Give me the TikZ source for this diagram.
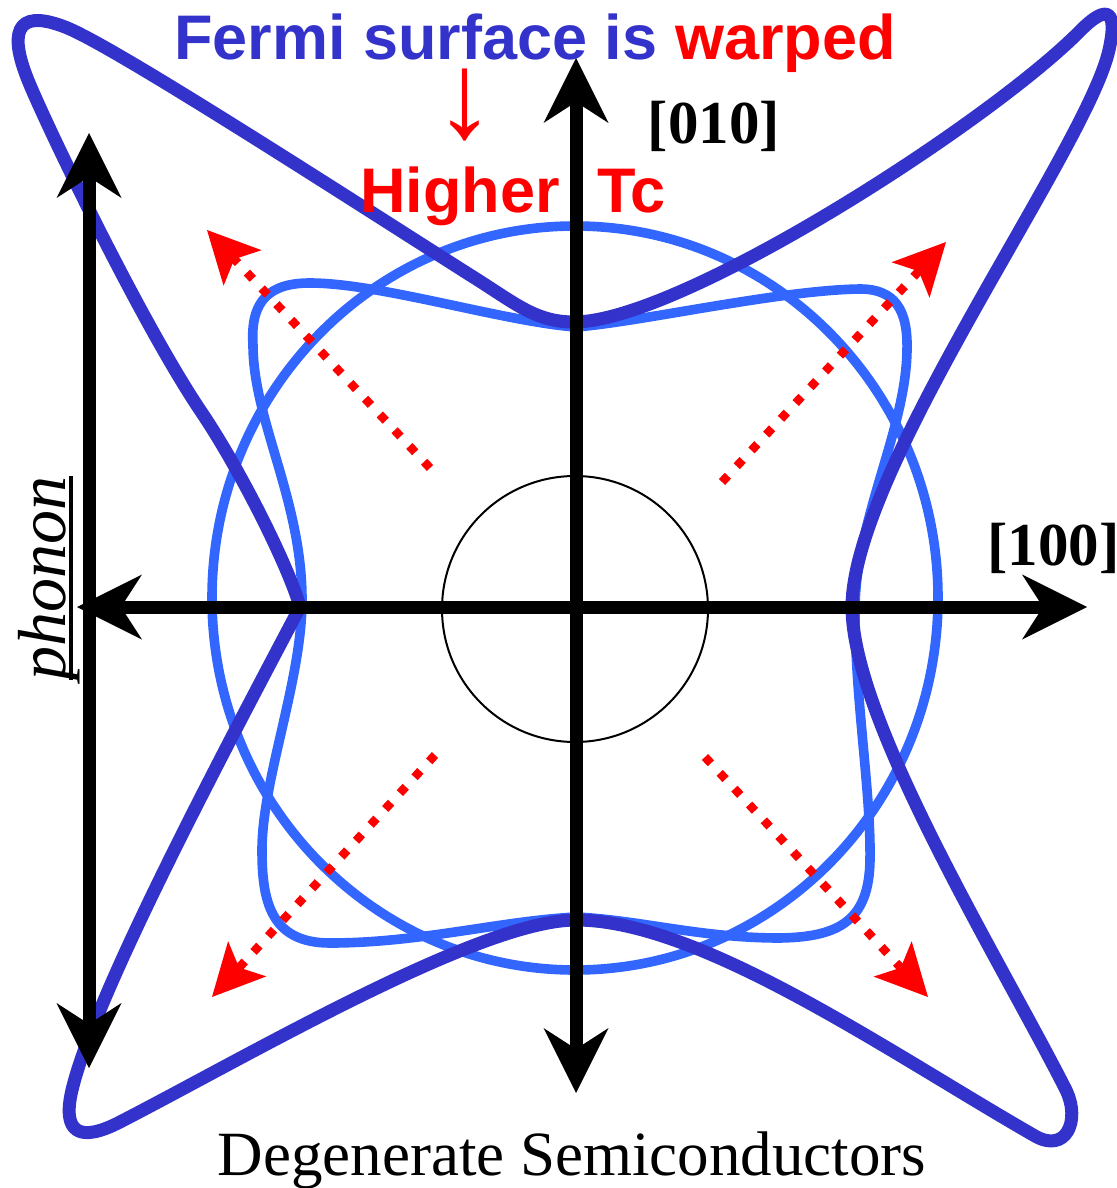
\documentclass[tikz,border=0pt]{standalone}
\usepackage{fontspec}
\setmainfont{Liberation Serif}
\setsansfont{Liberation Sans}
\usetikzlibrary{arrows.meta}
\definecolor{fdark}{RGB}{51,51,204}
\definecolor{flight}{RGB}{51,102,255}
\definecolor{fred}{RGB}{255,0,0}
\newcommand\myuline[1]{\setbox0\hbox{#1}\rlap{\rule[-3.75pt]{\wd0}{2pt}}\box0}
\begin{document}
\begin{tikzpicture}[x=0.5pt,y=-0.5pt,
  axisline/.style={line width=6.5pt, black, {Stealth[length=32.5pt,width=32.5pt,inset=10.5pt,line width=0pt]}-{Stealth[length=32.5pt,width=32.5pt,inset=10.5pt,line width=0pt]}},
  redarrow/.style={fred, line width=4.3pt, line cap=butt, dash pattern=on 4.3pt off 6.5pt, -{Stealth[length=26pt,width=26pt,inset=6pt,line width=0pt]}},
  darkcurve/.style={fdark, line width=6.5pt, line join=round},
  lightcurve/.style={flight, line width=4.8pt, line join=round},
  sanstext/.style={font=\sffamily\bfseries\fontsize{31.5}{36}\selectfont, inner sep=0pt},
  serifbold/.style={font=\rmfamily\bfseries\fontsize{30.5}{36}\selectfont, inner sep=0pt, text=black},
]
\useasboundingbox (0,0) rectangle (1117,1188);

% light blue ellipse
\draw[lightcurve] (575,598) ellipse [x radius=181.5pt, y radius=186pt];

% light blue warped square
\draw[lightcurve] (253,345)
  .. controls (250,300) and (270,283) .. (310,283)
  .. controls (380,283) and (505,322) .. (576,327)
  .. controls (640,322) and (780,290) .. (860,289)
  .. controls (895,289) and (908,310) .. (907,350)
  .. controls (906,430) and (855,520) .. (855,610)
  .. controls (855,700) and (871,790) .. (870,860)
  .. controls (869,920) and (840,937) .. (780,938)
  .. controls (700,938) and (640,920) .. (576,917)
  .. controls (500,921) and (420,943) .. (330,943)
  .. controls (270,943) and (262,900) .. (262,850)
  .. controls (262,780) and (302,680) .. (302,600)
  .. controls (302,500) and (253,420) .. (253,345) -- cycle;

% dark blue warped Fermi surface
\draw[darkcurve] (574,322)
  .. controls (680,322) and (989,123) .. (1080,31)
  .. controls (1108,2.6) and (1117.8,10.8) .. (1109,50)
  .. controls (1087,148) and (852,470) .. (852,607)
  .. controls (852,720) and (1000,960) .. (1066,1090)
  .. controls (1081,1121.5) and (1065.5,1153.5) .. (1035,1136)
  .. controls (887,1051) and (700,920) .. (576,920)
  .. controls (480,920) and (250,1055) .. (120,1122)
  .. controls (80,1142.7) and (61.65,1133.65) .. (72,1090)
  .. controls (95,993) and (230,740) .. (300,607)
  .. controls (290,570) and (242,472) .. (200,410)
  .. controls (143,325) and (53.4,140.2) .. (30,85)
  .. controls (8.5,34.4) and (13.85,7.2) .. (65,27)
  .. controls (110,44) and (330,186) .. (470,275)
  .. controls (515,303) and (535,322) .. (574,322) -- cycle;

% red dotted arrows
\coordinate (tls) at (430,468); \coordinate (tle) at (207,230);
\coordinate (trs) at (722,482); \coordinate (tre) at (946,242);
\coordinate (bls) at (435,755); \coordinate (ble) at (212,997);
\coordinate (brs) at (705,757); \coordinate (bre) at (928,997);
\draw[redarrow] (tls) -- (tle);
\draw[redarrow] (trs) -- (tre);
\draw[redarrow] (bls) -- (ble);
\draw[redarrow] (brs) -- (bre);

% thin center circle
\draw[line width=1pt] (575,609) circle [radius=66.5pt];

% axes
\coordinate (xl) at (77,607); \coordinate (xr) at (1087,607);
\coordinate (yt) at (576,58); \coordinate (yb) at (576,1093);
\coordinate (pt) at (89,133); \coordinate (pb) at (89,1068);
\draw[axisline] (xl) -- (xr);
\draw[axisline] (yb) -- (yt);
\draw[axisline] (pb) -- (pt);

% texts
\node[sanstext, anchor=base, text=fdark] (title) at (535,60) {Fermi surface is \textcolor{fred}{warped}};
\node[font=\sffamily\fontsize{61}{64}\selectfont, text=fred, inner sep=0pt] (down) at (465,105) {↓};
\node[sanstext, anchor=base, text=fred] (higher) at (513,212) {Higher\hspace{10pt} Tc};
\node[serifbold, anchor=base] (l010) at (714,143) {[010]};
\node[serifbold, anchor=base west] (l100) at (987,565) {[100]};
\node[font=\rmfamily\itshape\fontsize{34}{40}\selectfont, rotate=90, anchor=base, inner sep=0pt] (phonon) at (65,578) {\myuline{phonon}};
\node[font=\rmfamily\fontsize{31.5}{38}\selectfont, anchor=base, inner sep=0pt] (deg) at (572,1175) {Degenerate Semiconductors};
\end{tikzpicture}
\end{document}
